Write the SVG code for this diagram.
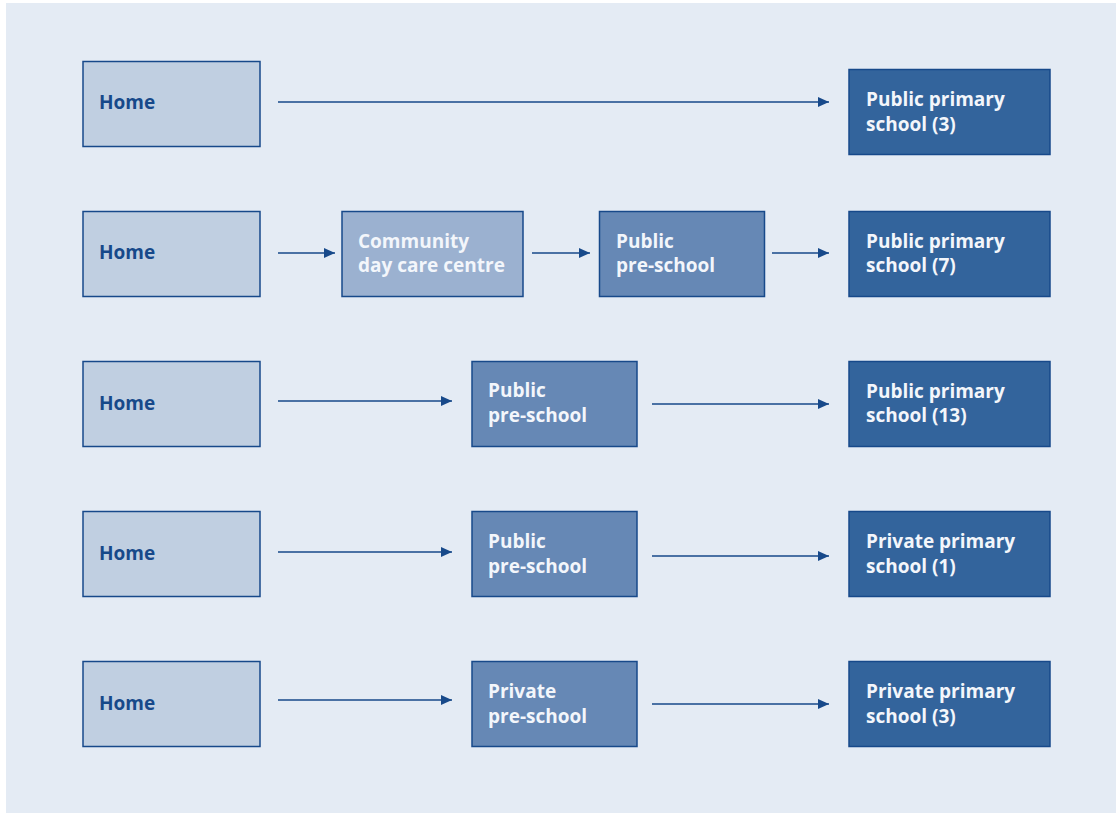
<svg xmlns="http://www.w3.org/2000/svg" width="1116" height="814" viewBox="0 0 1116 814">
<style>
.bx{stroke:#17498a;stroke-width:1.5}
.home{fill:#c0cfe1}
.comm{fill:#9bb1d0}
.pre{fill:#6688b5}
.prim{fill:#33649c}
text{font-family:"Open Sans","Noto Sans","Liberation Sans",sans-serif;font-weight:bold;font-size:19px}
.dk{fill:#17498a}
.lt{fill:#f3f6fb}
.ar{stroke:#17498a;stroke-width:1.5;fill:none;marker-end:url(#ah)}
</style>
<defs>
<marker id="ah" markerWidth="11" markerHeight="10" refX="11" refY="5" orient="auto" markerUnits="userSpaceOnUse">
<path d="M0,0 L11,5 L0,10 Z" fill="#17498a"/>
</marker>
</defs>
<rect x="0" y="0" width="1116" height="814" fill="#ffffff"/>
<rect x="6" y="3" width="1110" height="810" fill="#e4ebf4"/>
<g id="connectors">
<line class="ar" x1="278" y1="102" x2="829" y2="102"/>
<line class="ar" x1="278" y1="253" x2="335" y2="253"/>
<line class="ar" x1="532" y1="253" x2="590" y2="253"/>
<line class="ar" x1="772" y1="253" x2="829" y2="253"/>
<line class="ar" x1="278" y1="401" x2="452" y2="401"/>
<line class="ar" x1="652" y1="404" x2="829" y2="404"/>
<line class="ar" x1="278" y1="552" x2="452" y2="552"/>
<line class="ar" x1="652" y1="556" x2="829" y2="556"/>
<line class="ar" x1="278" y1="700" x2="452" y2="700"/>
<line class="ar" x1="652" y1="704" x2="829" y2="704"/>
</g>
<g id="home1"><rect class="bx home" x="83" y="61.5" width="177" height="85"/><text class="dk" x="99" y="109">Home</text></g>
<g id="prim1"><rect class="bx prim" x="849" y="69.5" width="201" height="85"/><text class="lt" x="866" y="106">Public primary</text><text class="lt" x="866" y="131">school (3)</text></g>

<g id="home2"><rect class="bx home" x="83" y="211.5" width="177" height="85"/><text class="dk" x="99" y="259">Home</text></g>
<g id="comm2"><rect class="bx comm" x="342" y="211.5" width="181" height="85"/><text class="lt" x="358" y="248">Community</text><text class="lt" x="358" y="272">day care centre</text></g>
<g id="pre2"><rect class="bx pre" x="599.5" y="211.5" width="165" height="85"/><text class="lt" x="616" y="248">Public</text><text class="lt" x="616" y="272">pre-school</text></g>
<g id="prim2"><rect class="bx prim" x="849" y="211.5" width="201" height="85"/><text class="lt" x="866" y="248">Public primary</text><text class="lt" x="866" y="272">school (7)</text></g>

<g id="home3"><rect class="bx home" x="83" y="361.5" width="177" height="85"/><text class="dk" x="99" y="410">Home</text></g>
<g id="pre3"><rect class="bx pre" x="472" y="361.5" width="165" height="85"/><text class="lt" x="488" y="397">Public</text><text class="lt" x="488" y="422">pre-school</text></g>
<g id="prim3"><rect class="bx prim" x="849" y="361.5" width="201" height="85"/><text class="lt" x="866" y="398">Public primary</text><text class="lt" x="866" y="422">school (13)</text></g>

<g id="home4"><rect class="bx home" x="83" y="511.5" width="177" height="85"/><text class="dk" x="99" y="560">Home</text></g>
<g id="pre4"><rect class="bx pre" x="472" y="511.5" width="165" height="85"/><text class="lt" x="488" y="548">Public</text><text class="lt" x="488" y="573">pre-school</text></g>
<g id="prim4"><rect class="bx prim" x="849" y="511.5" width="201" height="85"/><text class="lt" x="866" y="548">Private primary</text><text class="lt" x="866" y="573">school (1)</text></g>

<g id="home5"><rect class="bx home" x="83" y="661.5" width="177" height="85"/><text class="dk" x="99" y="710">Home</text></g>
<g id="pre5"><rect class="bx pre" x="472" y="661.5" width="165" height="85"/><text class="lt" x="488" y="698">Private</text><text class="lt" x="488" y="723">pre-school</text></g>
<g id="prim5"><rect class="bx prim" x="849" y="661.5" width="201" height="85"/><text class="lt" x="866" y="698">Private primary</text><text class="lt" x="866" y="723">school (3)</text></g>
</svg>
